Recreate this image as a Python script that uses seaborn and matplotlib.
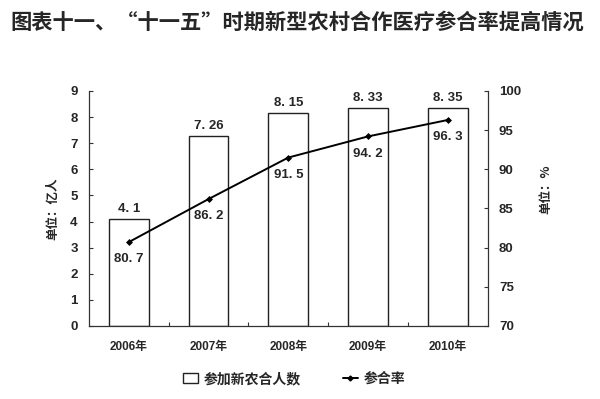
import matplotlib
matplotlib.use("Agg")
import matplotlib.pyplot as plt
import seaborn as sns
import numpy as np
from matplotlib.patches import Patch
from matplotlib.lines import Line2D

years = ["2006年", "2007年", "2008年", "2009年", "2010年"]
participants = [4.1, 7.26, 8.15, 8.33, 8.35]   # 亿人
rates = [80.7, 86.2, 91.5, 94.2, 96.3]          # %
left_ticks = list(range(0, 10))
right_ticks = list(range(70, 101, 5))

sns.set_theme(style="white")
plt.rcParams['font.family'] = ['Liberation Sans', 'Noto Sans CJK SC', 'DejaVu Sans']
cjk = ['Noto Sans CJK SC', 'DejaVu Sans']
num = ['Liberation Sans', 'Noto Sans CJK SC']

fig = plt.figure(figsize=(6, 3.99), dpi=100)
ax = fig.add_axes([0.148, 0.183, 0.665, 0.589])

sns.barplot(x=years, y=participants, color="white", edgecolor="#222222",
            linewidth=1.0, width=0.5, ax=ax, saturation=1)
ax.set_ylim(0, 9)
ax.set_xlim(-0.5, len(years) - 0.5)
ax.set_yticks(left_ticks)
ax.set_yticklabels([str(t) for t in left_ticks], fontsize=9.5, fontweight='bold', family=num)
ax.set_xticks(range(len(years)))
ax.set_xticklabels(years, fontsize=8.5, fontweight='bold', family=num)
ax.tick_params(axis='x', which='major', length=0, pad=11)
ax.set_xticks(np.arange(0.5, len(years) - 1, 1.0), minor=True)
ax.tick_params(axis='x', which='minor', direction='in', length=3, width=0.8, color='#333333', bottom=True)
ax.tick_params(axis='y', direction='in', length=3, width=0.8, color='#333333', left=True, pad=8)
ax.set_ylabel("单位：亿人", fontsize=9, fontweight='bold', family=cjk, labelpad=8)
ax.set_xlabel("")
for s in ['left', 'bottom']:
    ax.spines[s].set_color('#333333')
    ax.spines[s].set_linewidth(0.9)
for s in ['top', 'right']:
    ax.spines[s].set_visible(False)

for i, v in enumerate(participants):
    ax.annotate(f"{v:g}".replace(".", ". "), (i, v), xytext=(0, 3), textcoords='offset points',
                ha='center', va='bottom', fontsize=9.5, fontweight='bold', family=num)

ax2 = ax.twinx()
sns.pointplot(x=years, y=rates, color="black", markers="D", markersize=2.5,
              linewidth=1.4, ax=ax2)
ax2.set_ylim(70, 100)
ax2.set_xlim(-0.5, len(years) - 0.5)
ax2.set_yticks(right_ticks)
ax2.set_yticklabels([str(t) for t in right_ticks], fontsize=9.5, fontweight='bold', family=num)
ax2.tick_params(axis='y', direction='in', length=3, width=0.8, color='#333333', right=True, pad=8)
ax2.set_ylabel("单位：%", fontsize=9, fontweight='bold', family=cjk, rotation=90)
ax2.yaxis.set_label_coords(1.13, 0.58)
ax2.spines['right'].set_color('#333333')
ax2.spines['right'].set_linewidth(0.9)
for s in ['top', 'left', 'bottom']:
    ax2.spines[s].set_visible(False)

for i, v in enumerate(rates):
    ax2.annotate(f"{v:g}".replace(".", ". "), (i, v), xytext=(0, -8), textcoords='offset points',
                 ha='center', va='top', fontsize=9.5, fontweight='bold', family=num)

fig.text(0.018, 0.945, "图表十一、“十一五”时期新型农村合作医疗参合率提高情况",
         fontsize=15.3, fontweight='bold', family=cjk, ha='left', va='center')

handles = [Patch(facecolor='white', edgecolor='#222222', linewidth=1.0),
           Line2D([0], [0], color='black', marker='D', markersize=2.5, linewidth=1.4)]
leg = fig.legend(handles, ["参加新农合人数", "参合率"], loc='center',
                 bbox_to_anchor=(0.49, 0.05), ncol=2, frameon=False,
                 prop={'family': cjk, 'size': 10, 'weight': 'bold'},
                 handlelength=1.1, columnspacing=3.0, handletextpad=0.4)

fig.savefig("out.png", dpi=100)
